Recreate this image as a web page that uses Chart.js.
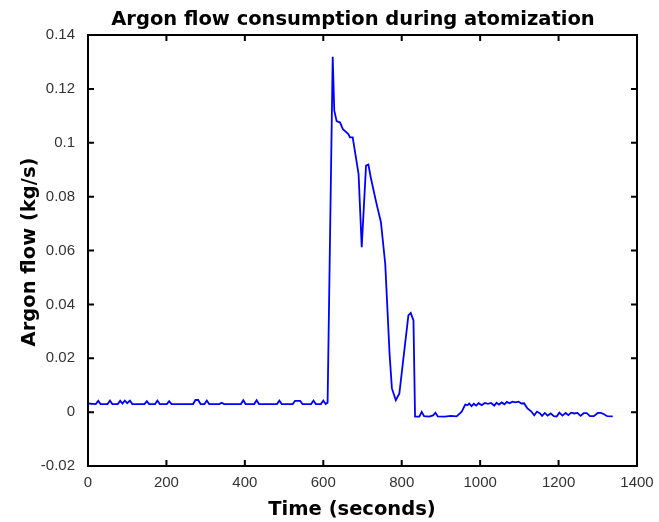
<!DOCTYPE html>
<html>
<head>
<meta charset="utf-8">
<script src="https://cdn.jsdelivr.net/npm/chart.js@4/dist/chart.umd.min.js"></script>
<style>
  html, body { margin: 0; padding: 0; background: #fff; }
  #wrap { width: 659px; height: 522px; }
</style>
</head>
<body>
<div id="wrap"><canvas id="chart" width="659" height="522"></canvas></div>
<script>
// time (s) and argon flow (kg/s)
var times = [
  0, 20, 26, 32, 50, 56, 62, 76, 82, 88, 94, 100, 107, 113, 144, 150, 156, 171, 177, 183,
  201, 207, 213, 268, 274, 281, 287, 297, 303, 309, 335, 341, 347, 390, 396, 402, 424, 430, 436,
  482, 488, 494, 522, 528, 541, 547, 569, 575, 581, 594, 600, 606, 611,
  624, 628, 634, 643, 650, 664, 668, 675, 690, 698, 709, 715, 721, 732, 738, 747, 758, 769,
  775, 785, 794, 817, 823, 830, 834,
  845, 851, 857, 870, 880, 886, 892, 910, 925, 940, 953, 962, 968, 972, 978, 984, 990, 996,
  1004, 1012, 1020, 1028, 1036, 1042, 1048, 1055, 1062, 1068, 1075, 1082, 1090, 1098, 1105,
  1112, 1120, 1130, 1138, 1145, 1152, 1158, 1165, 1172, 1180, 1188, 1195, 1202, 1210, 1218,
  1225, 1232, 1240, 1248, 1256, 1264, 1272, 1280, 1290, 1300, 1308, 1316, 1324, 1338
];
var flow = [
  0.0032, 0.003, 0.0042, 0.003, 0.003, 0.0043, 0.003, 0.003, 0.0042, 0.0032, 0.0043, 0.0033, 0.0043, 0.003, 0.003, 0.0041, 0.003, 0.003, 0.0043, 0.003,
  0.003, 0.0041, 0.003, 0.003, 0.0045, 0.0045, 0.003, 0.003, 0.0043, 0.003, 0.003, 0.0035, 0.003, 0.003, 0.0044, 0.003, 0.003, 0.0044, 0.003,
  0.003, 0.0043, 0.003, 0.003, 0.0042, 0.0042, 0.003, 0.003, 0.0043, 0.003, 0.003, 0.0043, 0.003, 0.0035,
  0.1319, 0.112, 0.108, 0.1075, 0.105, 0.1032, 0.102, 0.102, 0.0884, 0.0612, 0.0915, 0.0919, 0.0872, 0.0798, 0.076, 0.0705, 0.055, 0.0217,
  0.0088, 0.0044, 0.0069, 0.0359, 0.0368, 0.034, -0.0017,
  -0.0017, 0.0001, -0.0015, -0.0017, -0.0012, -0.0002, -0.0016, -0.0017, -0.0014, -0.0016, 0.0002, 0.0028, 0.0026, 0.0032, 0.0022, 0.0031, 0.0024, 0.0033,
  0.0026, 0.0034, 0.0031, 0.0034, 0.0024, 0.0035, 0.0028, 0.0036, 0.0029, 0.0038, 0.0033, 0.0039, 0.0036, 0.0039, 0.0032,
  0.0033, 0.0015, 0.0003, -0.0012, 0.0002, -0.0004, -0.0014, -0.0003, -0.0013, -0.0005, -0.0015, -0.0016, -0.0002, -0.0013, -0.0003,
  -0.0011, -0.0002, -0.0005, -0.0003, -0.0014, -0.0004, -0.0004, -0.0015, -0.0015, -0.0003, -0.0003, -0.0008, -0.0015, -0.0016
];
var xTicks = [0, 200, 400, 600, 800, 1000, 1200, 1400];
var yTicks = [-0.02, 0, 0.02, 0.04, 0.06, 0.08, 0.1, 0.12, 0.14];

var titleText = 'Argon flow consumption during atomization';
var xTitle = 'Time (seconds)';
var yTitle = 'Argon flow (kg/s)';

var points = times.map(function(t, i) { return { x: t, y: flow[i] }; });

// matlab style box with inward ticks on all four sides, plus the titles
var boxPlugin = {
  id: 'box',
  afterDraw: function(chart) {
    var ctx = chart.ctx;
    var a = chart.chartArea;
    var xs = chart.scales.x, ys = chart.scales.y;
    var len = 6;
    ctx.save();
    ctx.strokeStyle = '#000';
    ctx.lineWidth = 2;
    ctx.beginPath();
    xs.ticks.forEach(function(t) {
      var px = xs.getPixelForValue(t.value);
      ctx.moveTo(px, a.bottom); ctx.lineTo(px, a.bottom - len);
      ctx.moveTo(px, a.top); ctx.lineTo(px, a.top + len);
    });
    ys.ticks.forEach(function(t) {
      var py = ys.getPixelForValue(t.value);
      ctx.moveTo(a.left, py); ctx.lineTo(a.left + len, py);
      ctx.moveTo(a.right, py); ctx.lineTo(a.right - len, py);
    });
    ctx.stroke();
    ctx.strokeRect(a.left, a.top, a.right - a.left, a.bottom - a.top);

    ctx.fillStyle = '#000';
    ctx.font = 'bold 19.5px "DejaVu Sans"';
    ctx.textAlign = 'center';
    ctx.textBaseline = 'alphabetic';
    ctx.fillText(titleText, 353, 25);
    ctx.fillText(xTitle, 352, 515);
    ctx.translate(35, 252);
    ctx.rotate(-Math.PI / 2);
    ctx.fillText(yTitle, 0, 0);
    ctx.restore();
  }
};

new Chart(document.getElementById('chart'), {
  type: 'line',
  data: {
    datasets: [{
      data: points,
      borderColor: '#0000ff',
      borderWidth: 1.8,
      pointRadius: 0,
      tension: 0,
      fill: false
    }]
  },
  options: {
    responsive: false,
    animation: false,
    layout: { padding: { top: 35, right: 22, left: 0, bottom: 0 } },
    plugins: {
      legend: { display: false },
      tooltip: { enabled: false },
      title: { display: false }
    },
    scales: {
      x: {
        type: 'linear',
        min: 0, max: 1400,
        afterBuildTicks: function(s) { s.ticks = xTicks.map(function(v) { return { value: v }; }); },
        afterFit: function(s) { s.height = 56; },
        grid: { display: false },
        border: { display: false },
        ticks: {
          color: '#333',
          font: { family: 'Liberation Sans', size: 15 },
          padding: 0,
          maxRotation: 0,
          callback: function(v) { return String(v); }
        }
      },
      y: {
        min: -0.02, max: 0.14,
        afterBuildTicks: function(s) { s.ticks = yTicks.map(function(v) { return { value: v }; }); },
        afterFit: function(s) { s.width = 88; },
        grid: { display: false },
        border: { display: false },
        ticks: {
          color: '#333',
          font: { family: 'Liberation Sans', size: 15 },
          padding: 5,
          callback: function(v) { return String(Math.round(v * 100) / 100); }
        }
      }
    }
  },
  plugins: [boxPlugin]
});
</script>
</body>
</html>
